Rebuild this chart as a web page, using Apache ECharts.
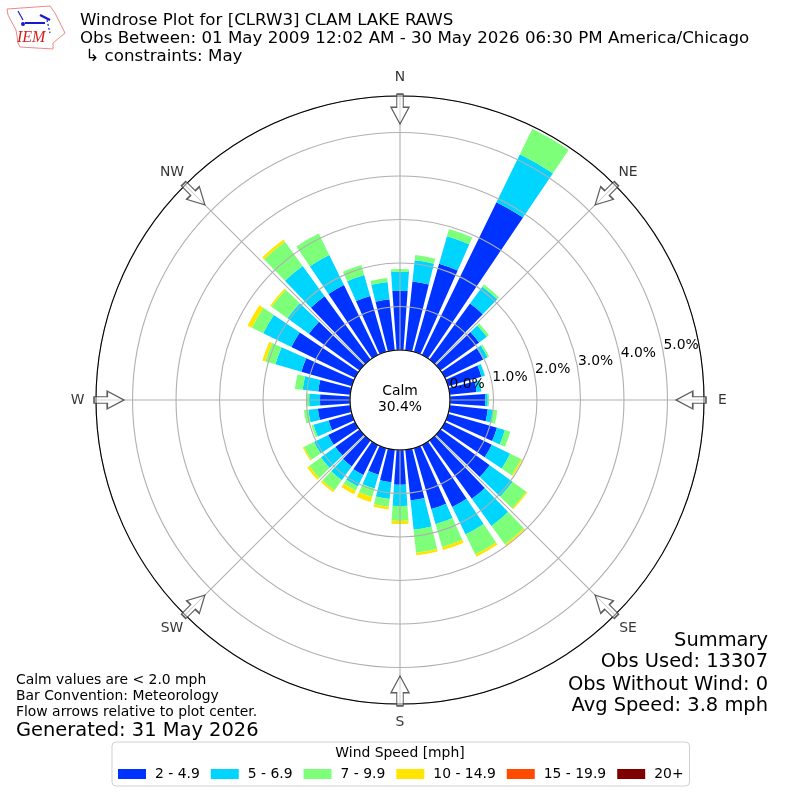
<!DOCTYPE html>
<html>
<head>
<meta charset="utf-8">
<style>html,body{margin:0;padding:0;background:#fff}#c{width:800px;height:800px}</style>
<script src="https://cdn.jsdelivr.net/npm/echarts@6/dist/echarts.min.js"></script>
</head>
<body>
<div id="c"></div>
<script>
const directions = ['0','10','20','30','40','50','60','70','80','90','100','110','120','130','140','150','160','170','180','190','200','210','220','230','240','250','260','270','280','290','300','310','320','330','340','350'];
const bin2to5 = [1.36,1.59,2.11,3.91,1.59,1.10,0.98,0.80,0.62,0.81,0.88,1.17,1.20,1.40,1.66,1.59,1.46,1.17,0.80,0.75,0.64,0.77,0.74,0.69,0.69,0.56,0.75,0.69,0.74,1.21,1.63,1.44,1.80,1.79,1.34,1.18];
const bin5to7 = [0.44,0.49,0.66,1.23,0.48,0.22,0.11,0.08,0.11,0.06,0.12,0.19,0.47,0.65,0.77,0.70,0.36,0.68,0.49,0.39,0.33,0.29,0.39,0.41,0.36,0.36,0.22,0.25,0.36,0.62,0.72,0.61,0.86,0.77,0.50,0.40];
const bin7to10 = [0.06,0.12,0.17,0.65,0.06,0.06,0.04,0.01,0,0.03,0.10,0.13,0.28,0.39,0.52,0.51,0.55,0.53,0.34,0.18,0.20,0.11,0.29,0.33,0.26,0.05,0.10,0.07,0.18,0.24,0.29,0.45,0.69,0.55,0.24,0.09];
const bin10to15 = [0,0,0,0,0,0,0,0,0,0,0,0,0.03,0.03,0.04,0.06,0.07,0.06,0.07,0.06,0.12,0.09,0.05,0.06,0.03,0,0,0,0,0.07,0.11,0.04,0.06,0,0,0];
const bin15to20 = new Array(36).fill(0);
const bin20plus = new Array(36).fill(0);
const speedNames = ['2 - 4.9','5 - 6.9','7 - 9.9','10 - 14.9','15 - 19.9','20+'];
const speedColors = ['#0033ff','#00d5ff','#7dff7a','#ffe500','#ff4a00','#800000'];
const compass = ['N','NE','E','SE','S','SW','W','NW'];
const compassAngles = [0,45,90,135,180,225,270,315];
const arrowRadius = 5.54;
const radiusMax = 5.84;

const FONT = '"DejaVu Sans"';
const binValues = [bin2to5,bin5to7,bin7to10,bin10to15,bin15to20,bin20plus];
const txt = (text,left,top,size,extra) => Object.assign({
  text, left, top, textStyle:{fontFamily:FONT,fontSize:size,fontWeight:'normal',color:'#000',lineHeight:size*1.2},padding:0
},extra||{});
const labelGap = 31.5;

const chart = echarts.init(document.getElementById('c'),null,{renderer:'canvas'});
chart.setOption({
  animation:false,
  backgroundColor:'#fff',
  title:[
    txt('Windrose Plot for [CLRW3] CLAM LAKE RAWS',80,11,16.67),
    txt('Obs Between: 01 May 2009 12:02 AM - 30 May 2026 06:30 PM America/Chicago',80,29,16.67),
    txt(' ↳ constraints: May',80,47,16.67),
    txt('Calm values are < 2.0 mph',16,672,13.9),
    txt('Bar Convention: Meteorology',16,688,13.9),
    txt('Flow arrows relative to plot center.',16,704,13.9),
    txt('Generated: 31 May 2026',16,719,19.44),
    txt('Summary',768,629,19.44,{left:null,right:32}),
    txt('Obs Used: 13307',768,650,19.44,{left:null,right:32}),
    txt('Obs Without Wind: 0',768,673,19.44,{left:null,right:32}),
    txt('Avg Speed: 3.8 mph',768,694,19.44,{left:null,right:32}),
    txt('Calm',0,383,13.9,{left:'center',z:20}),
    txt('30.4%',0,399,13.9,{left:'center',z:20}),
    txt('Wind Speed [mph]',0,745,13.9,{left:'center'})
  ],
  polar:[
    {center:[400,400],radius:[50,304]},
    {center:[400,400],radius:[50,304]},
    {center:[400,400],radius:[68.8,322.8]}
  ],
  angleAxis:[
    {polarIndex:0,type:'category',data:directions,startAngle:95,clockwise:true,show:false},
    {polarIndex:1,type:'value',min:0,max:360,interval:45,startAngle:90,clockwise:true,z:5,
      axisLine:{show:true,lineStyle:{color:'#000',width:1.1}},
      axisTick:{show:false},
      splitLine:{show:true,lineStyle:{color:'#b0b0b0',width:1.1}},
      axisLabel:{show:false}
    },
    {polarIndex:2,type:'value',min:0,max:360,startAngle:10.3,clockwise:true,show:false}
  ],
  radiusAxis:[
    {polarIndex:0,type:'value',min:0,max:radiusMax,show:false},
    {polarIndex:1,type:'value',min:0,max:radiusMax,interval:1,z:4,
      axisLine:{show:false},axisTick:{show:false},axisLabel:{show:false},
      splitLine:{show:true,lineStyle:{color:'#b0b0b0',width:1.1}}
    },
    {polarIndex:2,type:'value',min:0,max:radiusMax,interval:1,z:20,
      axisLine:{show:false},axisTick:{show:false},splitLine:{show:false},
      axisLabel:{show:true,margin:3,showMaxLabel:false,align:'center',verticalAlign:'middle',fontFamily:FONT,fontSize:13.9,color:'#000',
        formatter:v=>Number.isInteger(v)?v.toFixed(1)+'%':''}
    }
  ],
  legend:{
    data:speedNames,left:112,top:742,orient:'horizontal',icon:'rect',
    itemWidth:28,itemHeight:10,itemGap:11,selectedMode:false,
    padding:[25,6,5,6],borderColor:'#d0d0d0',borderWidth:1,borderRadius:4,
    textStyle:{fontFamily:FONT,fontSize:13.9,color:'#000',padding:[0,0,0,4]}
  },
  series:speedNames.map((name,i)=>({
    name,type:'bar',coordinateSystem:'polar',polarIndex:0,stack:'wind',
    barWidth:'80%',data:binValues[i],itemStyle:{color:speedColors[i]},z:2,silent:true
  })).concat([{
    type:'scatter',coordinateSystem:'polar',polarIndex:1,z:6,silent:true,
    data:compassAngles.map((a,i)=>({
      value:[arrowRadius,a],
      label:{
        show:true,position:'inside',align:'center',verticalAlign:'middle',
        formatter:compass[i],fontFamily:FONT,fontSize:13.9,color:'#000',textBorderWidth:0,
        offset:[labelGap*Math.sin(a*Math.PI/180),-labelGap*Math.cos(a*Math.PI/180)]
      }
    })),
    symbol:'path://M32 0H68V44H100L50 100L0 44H32Z',
    symbolSize:[18,30],
    symbolRotate:(v)=>-v[1],
    itemStyle:{color:'rgba(255,255,255,0.6)',borderColor:'#333',borderWidth:1.3}
  }]),
  graphic:[
    {type:'polygon',z:30,shape:{points:[[7,9],[50,6],[55,13],[61,25],[65,33],[53,43],[53,49],[20,47],[18,43],[16,30],[8,15]]},style:{fill:'#fff',stroke:'#e88',lineWidth:1}},
    {type:'line',z:31,shape:{x1:25,y1:23,x2:45,y2:23},style:{stroke:'#1a1acc',lineWidth:2}},
    {type:'circle',z:31,shape:{cx:23,cy:24,r:2},style:{fill:'#1a1acc'}},
    {type:'line',z:31,shape:{x1:18,y1:11,x2:23,y2:20},style:{stroke:'#1a1acc',lineWidth:1.2}},
    {type:'line',z:31,shape:{x1:40,y1:15,x2:50,y2:20},style:{stroke:'#1a1acc',lineWidth:2.5}},
    {type:'line',z:31,shape:{x1:47,y1:20,x2:50,y2:33},style:{stroke:'#1a1acc',lineWidth:1.2,lineDash:[2,2]}},
    {type:'text',z:31,left:17,top:30,style:{text:'IEM',font:'italic 16px "Liberation Serif"',fill:'#d62020'}}
  ]
});
</script>
</body>
</html>
